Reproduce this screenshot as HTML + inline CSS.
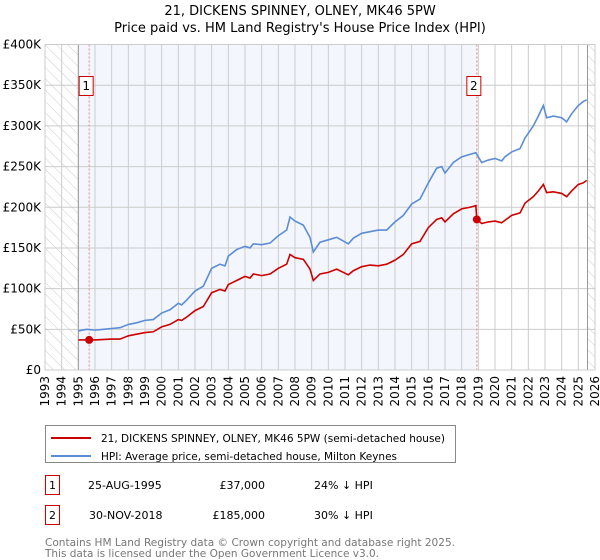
<!DOCTYPE html>
<html><head><meta charset="utf-8"><style>
body{margin:0;background:#fff;font-family:"Liberation Sans","DejaVu Sans",sans-serif;}
#wrap{position:relative;width:600px;height:560px;overflow:hidden}
</style></head><body><div id="wrap">
<svg id="chart" width="600" height="560" style="position:absolute;left:0;top:0" font-family="DejaVu Sans, Liberation Sans, sans-serif">
<defs><pattern id="hatch" width="8" height="8" patternUnits="userSpaceOnUse" patternTransform="rotate(-45)"><line x1="0" y1="0" x2="0" y2="8" stroke="#ccc" stroke-width="1"/></pattern></defs>
<text x="300" y="15" text-anchor="middle" font-size="13">21, DICKENS SPINNEY, OLNEY, MK46 5PW</text>
<text x="300" y="32" text-anchor="middle" font-size="13">Price paid vs. HM Land Registry's House Price Index (HPI)</text>
<g id="plot"></g>
</svg>
<svg width="600" height="140" style="position:absolute;left:0;top:420" font-family="DejaVu Sans, Liberation Sans, sans-serif" font-size="11">
<g>
<rect x="45.5" y="5.5" width="410" height="37" fill="#fff" stroke="#888"/>
<line x1="51" y1="18" x2="91" y2="18" stroke="#cc0000" stroke-width="2"/>
<text x="101" y="22" textLength="344" lengthAdjust="spacingAndGlyphs">21, DICKENS SPINNEY, OLNEY, MK46 5PW (semi-detached house)</text>
<line x1="51" y1="36" x2="91" y2="36" stroke="#5b8dd6" stroke-width="2"/>
<text x="101" y="40" textLength="296" lengthAdjust="spacingAndGlyphs">HPI: Average price, semi-detached house, Milton Keynes</text>
</g>
<g>
<rect x="45.5" y="55.5" width="14" height="19" fill="none" stroke="#cc0000"/><text x="52.5" y="69" text-anchor="middle">1</text>
<text x="88" y="69">25-AUG-1995</text><text x="265" y="69" text-anchor="end">£37,000</text><text x="314" y="69">24% ↓ HPI</text></g>
<g>
<rect x="45.5" y="85.5" width="14" height="19" fill="none" stroke="#cc0000"/><text x="52.5" y="99" text-anchor="middle">2</text>
<text x="89" y="99">30-NOV-2018</text><text x="265" y="99" text-anchor="end">£185,000</text><text x="314" y="99">30% ↓ HPI</text></g>
<text x="45" y="126" fill="#777" textLength="410" lengthAdjust="spacingAndGlyphs">Contains HM Land Registry data © Crown copyright and database right 2025.</text>
<text x="45" y="137" fill="#777" textLength="334" lengthAdjust="spacingAndGlyphs">This data is licensed under the Open Government Licence v3.0.</text>
</svg>
</div>
<script>
const hpiYears=[1995,1995.5,1996,1996.5,1997,1997.5,1998,1998.5,1999,1999.5,2000,2000.5,2001,2001.2,2001.5,2002,2002.5,2003,2003.5,2003.8,2004,2004.5,2005,2005.3,2005.5,2006,2006.5,2007,2007.5,2007.7,2008,2008.5,2008.9,2009.1,2009.5,2010,2010.5,2011.2,2011.5,2012,2012.5,2013,2013.5,2014,2014.5,2015,2015.5,2016,2016.5,2016.8,2017,2017.5,2018,2018.5,2018.85,2019.2,2019.6,2020,2020.4,2020.6,2021,2021.5,2021.8,2022.3,2022.6,2022.9,2023.1,2023.5,2024,2024.3,2024.6,2025,2025.3,2025.5];
const hpiValues=[48,50,49,50,51,52,56,58,61,62,70,74,82,80,86,97,103,125,130,128,140,148,152,150,155,154,156,165,172,188,183,178,163,145,157,160,163,155,162,168,170,172,172,182,190,204,210,230,248,250,242,255,262,265,267,255,258,260,257,262,268,272,285,300,312,325,310,312,310,305,315,325,330,332];
const redYears=[1995,1995.65,1996,1997,1997.5,1998,1998.5,1999,1999.5,2000,2000.5,2001,2001.2,2001.5,2002,2002.5,2003,2003.5,2003.8,2004,2004.5,2005,2005.3,2005.5,2006,2006.5,2007,2007.5,2007.7,2008,2008.5,2008.9,2009.1,2009.5,2010,2010.5,2011.2,2011.5,2012,2012.5,2013,2013.5,2014,2014.5,2015,2015.5,2016,2016.5,2016.8,2017,2017.5,2018,2018.5,2018.85,2018.91,2019.2,2019.6,2020,2020.4,2020.6,2021,2021.5,2021.8,2022.3,2022.6,2022.9,2023.1,2023.5,2024,2024.3,2024.6,2025,2025.3,2025.5];
const redValues=[37,37,37,38,38,42,44,46,47,53,56,62,61,65,73,78,95,99,97,105,110,115,113,118,116,118,125,130,142,138,136,124,110,118,120,124,117,122,127,129,128,130,135,142,155,158,175,185,187,182,192,198,200,202,185,180,182,183,181,184,190,193,205,213,220,228,218,219,217,213,220,228,230,233];
const sales=[{n:"1",year:1995.65,value:37},{n:"2",year:2018.91,value:185}];
const yTicks=[0,50,100,150,200,250,300,350,400];
const xTicks=[1993,1994,1995,1996,1997,1998,1999,2000,2001,2002,2003,2004,2005,2006,2007,2008,2009,2010,2011,2012,2013,2014,2015,2016,2017,2018,2019,2020,2021,2022,2023,2024,2025,2026];
const X0=45,X1=595,Y0=370,Y1=44.5,xMin=1993,xMax=2026,yMax=400;
const xs=y=>X0+(y-xMin)/(xMax-xMin)*(X1-X0);
const ys=v=>Y0-v/yMax*(Y0-Y1);
const NS="http://www.w3.org/2000/svg";
const g=document.getElementById('plot');
function mk(t,a,p){const e=document.createElementNS(NS,t);for(const k in a)e.setAttribute(k,a[k]);(p||g).appendChild(e);return e;}
mk('rect',{x:X0,y:Y1,width:X1-X0,height:Y0-Y1,fill:'#fff'});
let r=mk('rect',{x:xs(1995),y:Y1,width:xs(2018.91)-xs(1995),height:Y0-Y1,fill:'#f3f6fd'});


mk('rect',{x:X0,y:Y1,width:xs(1995)-X0,height:Y0-Y1,fill:'url(#hatch)'});
mk('rect',{x:xs(2025.55),y:Y1,width:X1-xs(2025.55),height:Y0-Y1,fill:'url(#hatch)'});
xTicks.forEach(t=>{mk('line',{x1:xs(t),x2:xs(t),y1:Y1,y2:Y0,stroke:'#ccc'});
 const tx=mk('text',{x:0,y:0,'font-size':12,'text-anchor':'end',transform:`translate(${xs(t)+4},${Y0+6}) rotate(-90)`});tx.textContent=t;
 
 });
yTicks.forEach(t=>{mk('line',{x1:X0,x2:X1,y1:ys(t),y2:ys(t),stroke:'#ccc'});
 const tx=mk('text',{x:X0-4,y:ys(t)+4,'font-size':12,'text-anchor':'end'});tx.textContent=t===0?'£0':'£'+t+'K';
 
 });
mk('line',{x1:xs(1995),x2:xs(1995),y1:Y1,y2:Y0,stroke:'#999'});
mk('line',{x1:xs(2025.55),x2:xs(2025.55),y1:Y1,y2:Y0,stroke:'#999'});
sales.forEach(s=>{mk('line',{x1:xs(s.year),x2:xs(s.year),y1:Y1,y2:Y0,stroke:'#f08080','stroke-dasharray':'2,2'});});
let hp=mk('polyline',{points:hpiYears.map((y,i)=>xs(y)+','+ys(hpiValues[i])).join(' '),fill:'none',stroke:'#5b8dd6','stroke-width':1.6});


let rp=mk('polyline',{points:redYears.map((y,i)=>xs(y)+','+ys(redValues[i])).join(' '),fill:'none',stroke:'#cc0000','stroke-width':1.6});


sales.forEach(s=>{const c=mk('circle',{cx:xs(s.year),cy:ys(s.value),r:4,fill:'#cc0000'});
 
 
 const bx=xs(s.year)-3;
 const b=mk('rect',{x:bx-7,y:76.5,width:14,height:19,fill:'#fff',stroke:'#cc0000'});
 
 
 const t=mk('text',{x:bx,y:90,'font-size':12,'text-anchor':'middle'});t.textContent=s.n;});
mk('rect',{x:X0,y:Y1,width:X1-X0,height:Y0-Y1,fill:'none',stroke:'#ccc'});
</script></body></html>
